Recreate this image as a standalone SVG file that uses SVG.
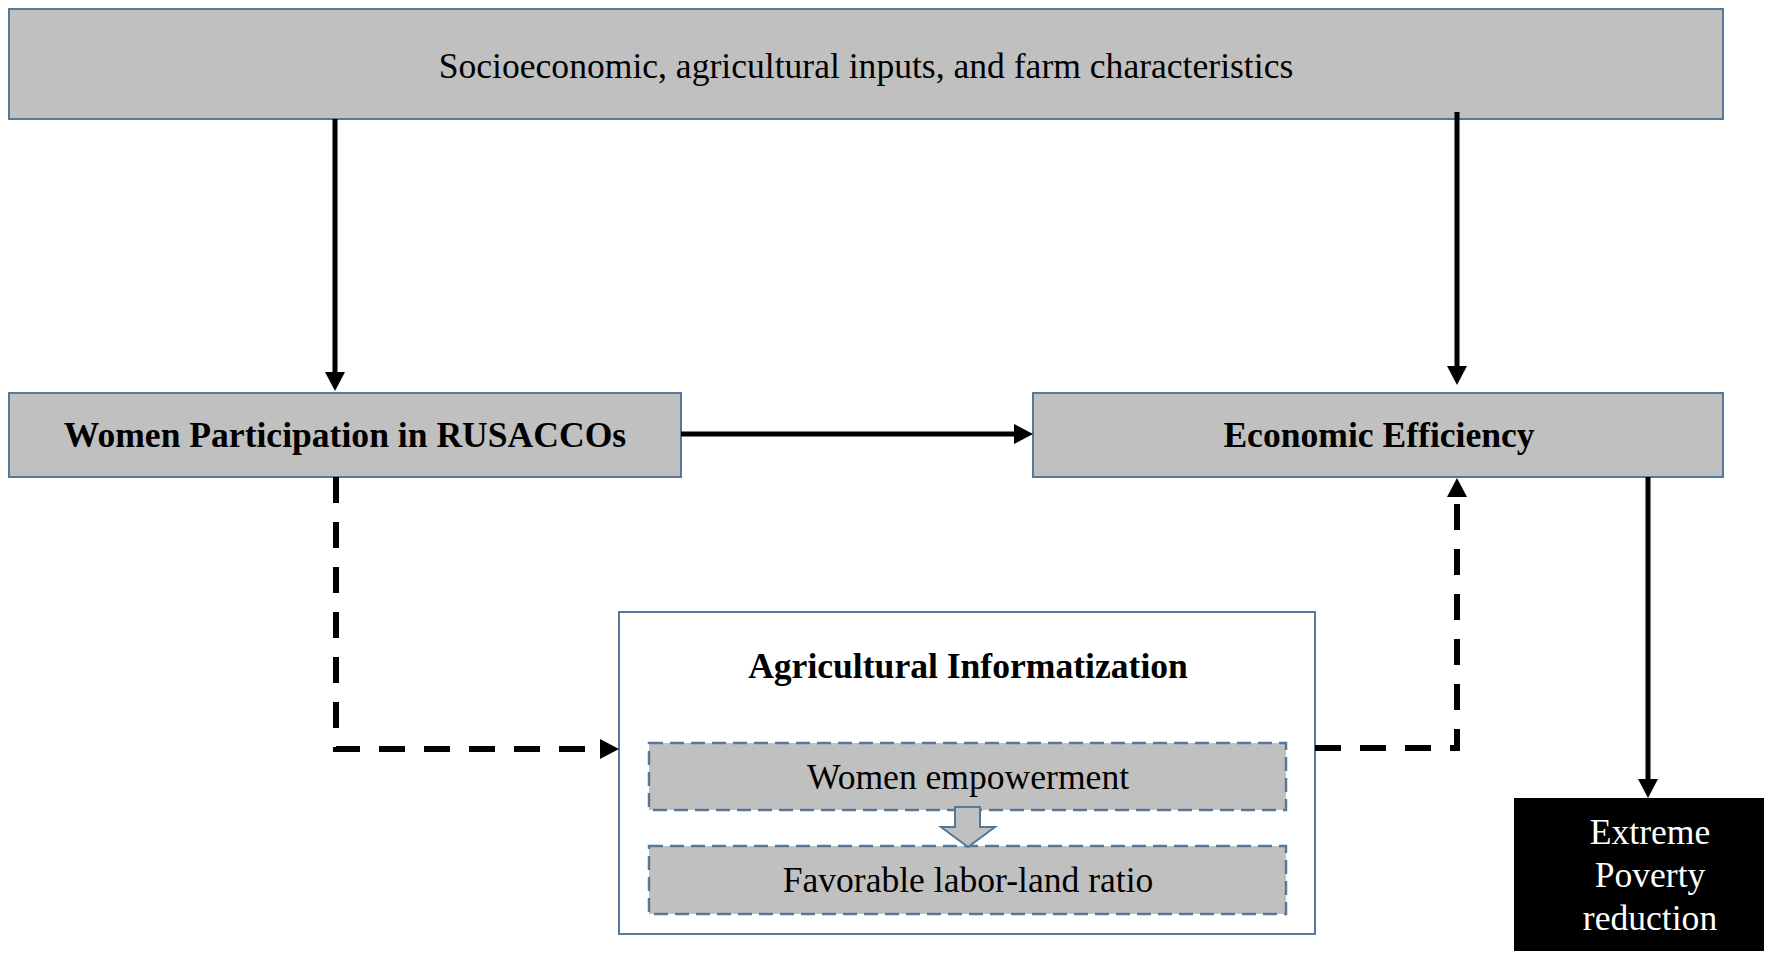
<svg xmlns="http://www.w3.org/2000/svg" width="1772" height="963" viewBox="0 0 1772 963">
<defs>
<style>
.box{fill:#c0c0c0;stroke:#56789a;stroke-width:2}
.inner{fill:#c0c0c0;stroke:#5a7896;stroke-width:2.5;stroke-dasharray:14 7}
.frame{fill:#ffffff;stroke:#56789a;stroke-width:2}
.t{font-family:"Liberation Serif","Times New Roman",serif;font-size:35.6px;fill:#000;text-anchor:middle}
.b{font-weight:bold}
.w{fill:#ffffff}
.solid{fill:none;stroke:#000;stroke-width:5}
.dash{fill:none;stroke:#000;stroke-width:6;stroke-dasharray:26 19}
</style>
<marker id="ah" markerUnits="userSpaceOnUse" markerWidth="20" markerHeight="20" refX="0" refY="10" orient="auto" viewBox="0 0 20 20">
<path d="M0,0 L19,10 L0,20 Z" fill="#000"/>
</marker>
</defs>
<rect width="1772" height="963" fill="#ffffff"/>

<g id="node-socio">
<rect class="box" x="9" y="9" width="1714" height="110"/>
<text class="t" x="866" y="78">Socioeconomic, agricultural inputs, and farm characteristics</text>
</g>

<g id="node-women">
<rect class="box" x="9" y="393" width="672" height="84"/>
<text class="t b" x="345" y="447">Women Participation in RUSACCOs</text>
</g>

<g id="node-efficiency">
<rect class="box" x="1033" y="393" width="690" height="84"/>
<text class="t b" x="1379" y="447">Economic Efficiency</text>
</g>

<g id="node-agri">
<rect class="frame" x="619" y="612" width="696" height="322"/>
<text class="t b" x="968" y="678">Agricultural Informatization</text>
</g>

<g id="node-empowerment">
<rect class="inner" x="649" y="743" width="637" height="67"/>
<text class="t" x="968" y="789">Women empowerment</text>
</g>

<g id="node-ratio">
<rect class="inner" x="649" y="846" width="637" height="68"/>
<text class="t" x="968" y="892">Favorable labor-land ratio</text>
</g>

<g id="node-poverty">
<rect x="1514" y="798" width="250" height="153" fill="#000"/>
<text class="t w" x="1650" y="844">Extreme</text>
<text class="t w" x="1650" y="887">Poverty</text>
<text class="t w" x="1650" y="930">reduction</text>
</g>

<g id="connectors">
<path class="solid" d="M335,119 L335,372" marker-end="url(#ah)"/>
<path class="solid" d="M1457,112 L1457,366" marker-end="url(#ah)"/>
<path class="solid" d="M681,434 L1014,434" marker-end="url(#ah)"/>
<path class="solid" d="M1648,477 L1648,779" marker-end="url(#ah)"/>
<path class="dash" d="M336,477 L336,749 L600,749" marker-end="url(#ah)"/>
<path class="dash" d="M1315,748 L1457,748 L1457,497" marker-end="url(#ah)"/>
<path id="hollow-arrow" d="M955,807 L980,807 L980,827 L995,827 L968,847 L941,827 L955,827 Z" fill="#c0c0c0" stroke="#56789a" stroke-width="2"/>
</g>
</svg>
